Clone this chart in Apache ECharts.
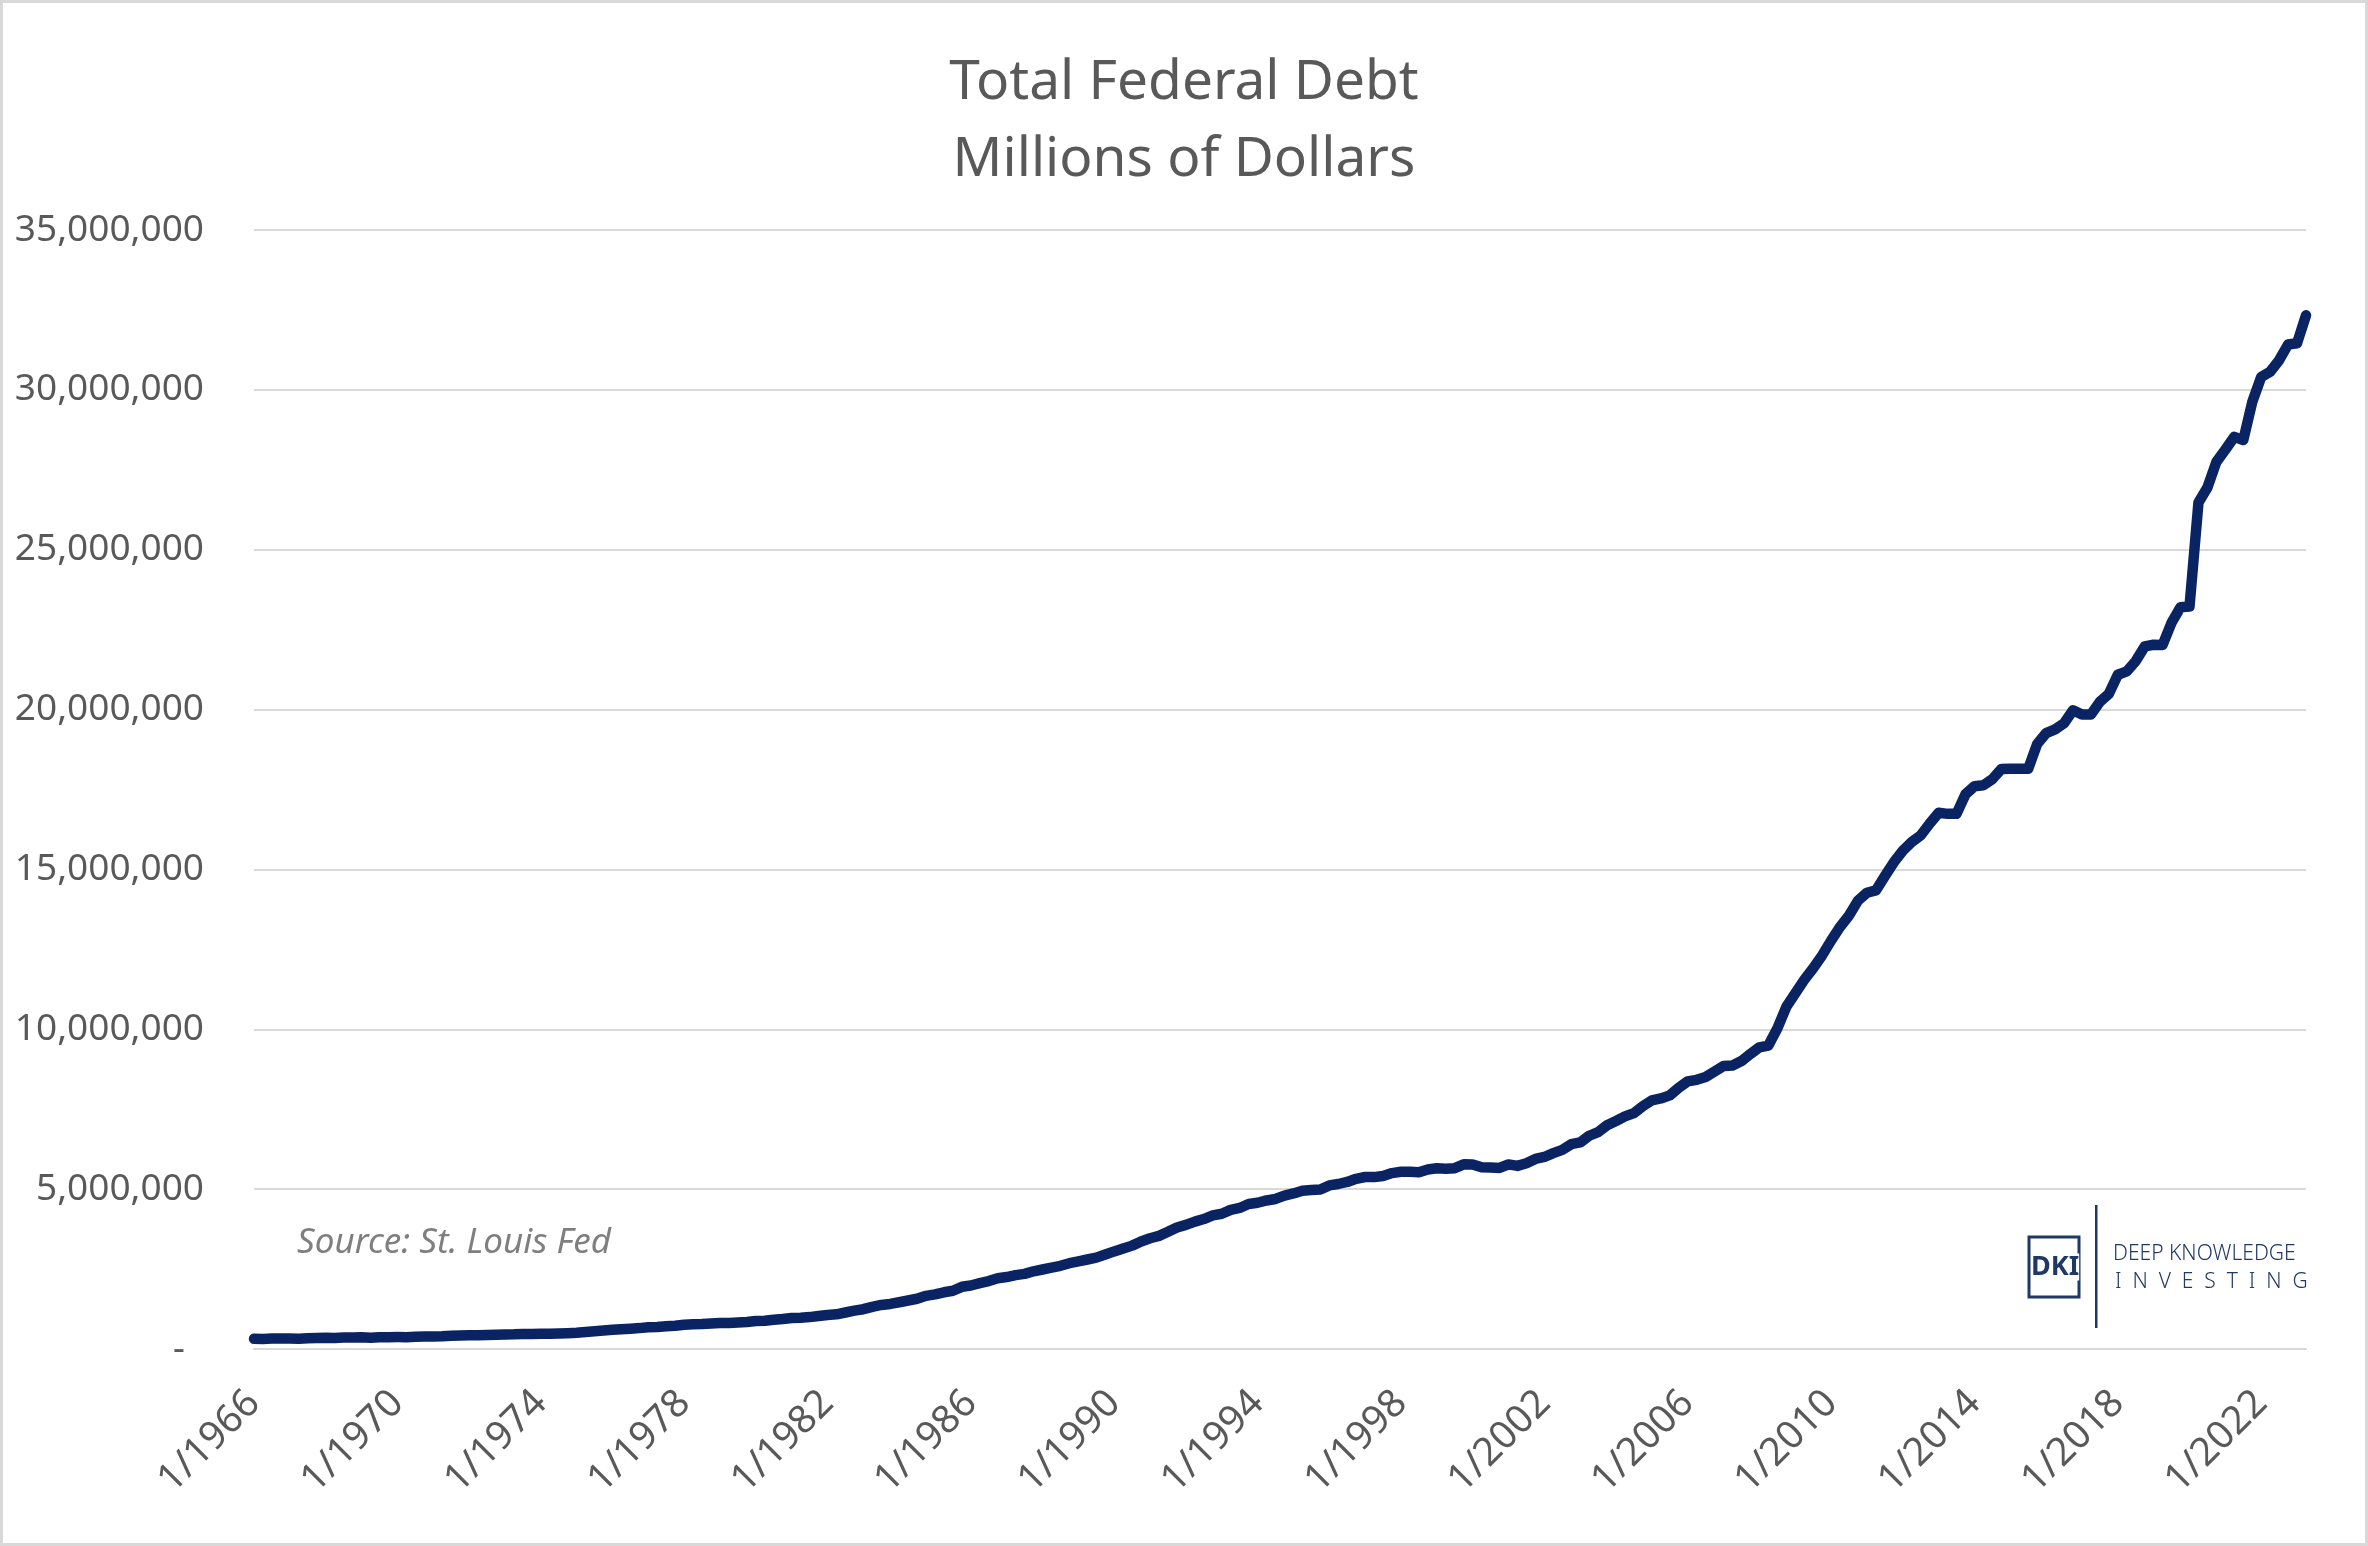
<!DOCTYPE html>
<html>
<head>
<meta charset="utf-8">
<script src="https://cdn.jsdelivr.net/npm/echarts@6/dist/echarts.min.js"></script>
<style>
  html, body { margin: 0; padding: 0; background: #fff; }
  #chart { width: 2368px; height: 1546px; }
</style>
</head>
<body>
<div id="chart"></div>
<script>
// Quarterly total federal debt, millions of dollars, 1966 Q1 .. 2023 Q2
const startYear = 1966;
const quarterMonths = [1, 4, 7, 10];

const debt1966_1975 = [
  320999, 316097, 324748, 329319,
  330947, 322893, 336927, 344663,
  351482, 347578, 358029, 358016,
  363713, 353720, 365770, 368226,
  372007, 370919, 381870, 389158,
  391676, 398130, 413256, 424131,
  427260, 427751, 436494, 449298,
  457000, 458142, 466291, 469898,
  474235, 475060, 481499, 492665,
  509659, 533189, 554280, 576649
];
const debt1976_1985 = [
  599000, 620433, 635822, 653544,
  680000, 685192, 709138, 729225,
  758000, 771544, 780425, 797694,
  816000, 812000, 829470, 845116,
  873000, 884000, 914317, 936000,
  970000, 977000, 997855, 1034000,
  1066000, 1084000, 1142034, 1201000,
  1245000, 1319000, 1377210, 1410000,
  1463000, 1517000, 1572266, 1663000,
  1710000, 1774000, 1823103, 1945000
];
const debt1986_1995 = [
  1986000, 2059000, 2125302, 2214000,
  2250000, 2309000, 2350277, 2431000,
  2487000, 2547000, 2602338, 2684000,
  2740000, 2799000, 2857431, 2953000,
  3052000, 3143000, 3233313, 3364000,
  3465000, 3538000, 3665303, 3801000,
  3881000, 3984000, 4064621, 4177000,
  4230000, 4352000, 4411489, 4535000,
  4575000, 4646000, 4692750, 4800000,
  4864000, 4951000, 4973983, 4988000
];
const debt1996_2005 = [
  5117000, 5161000, 5224811, 5323000,
  5380000, 5376000, 5413146, 5502000,
  5542000, 5547000, 5526193, 5614000,
  5651000, 5638000, 5656271, 5776000,
  5773000, 5686000, 5674178, 5662000,
  5773000, 5727000, 5807463, 5943000,
  6006000, 6126000, 6228236, 6405000,
  6460000, 6670000, 6783231, 6998000,
  7131000, 7274000, 7379053, 7596000,
  7776000, 7836000, 7932710, 8170000
];
const debt2006_2015 = [
  8371000, 8420000, 8507000, 8680000,
  8849000, 8867000, 9007653, 9229000,
  9437000, 9492000, 10024725, 10699000,
  11126000, 11545000, 11909829, 12311000,
  12773000, 13201000, 13561623, 14025000,
  14270000, 14343000, 14790340, 15222000,
  15582000, 15856000, 16066241, 16432000,
  16771000, 16738000, 16738000, 17352000,
  17601000, 17632000, 17824071, 18141000,
  18152000, 18152000, 18150618, 18922000
];
const debt2016_2023 = [
  19264000, 19381000, 19573445, 19977000,
  19846000, 19845000, 20244900, 20493000,
  21090000, 21195000, 21516058, 21974000,
  22028000, 22023000, 22719402, 23201000,
  23224000, 26477000, 26945000, 27748000,
  28133000, 28529000, 28428919, 29617000,
  30401000, 30568000, 30928912, 31419000,
  31458000, 32332000
];

const yTicks = [0, 5000000, 10000000, 15000000, 20000000, 25000000, 30000000, 35000000];

const values = [].concat(debt1966_1975, debt1976_1985, debt1986_1995,
                         debt1996_2005, debt2006_2015, debt2016_2023);
const categories = values.map((_, i) =>
  quarterMonths[i % 4] + '/' + (startYear + Math.floor(i / 4)));

const chart = echarts.init(document.getElementById('chart'), null, { renderer: 'canvas' });

const textColor = '#595959';
const navy = '#0a2463';

chart.setOption({
  backgroundColor: '#ffffff',
  animation: false,
  title: {
    text: 'Total Federal Debt\nMillions of Dollars',
    left: 'center',
    top: 40,
    textStyle: {
      fontFamily: 'Noto Sans',
      fontWeight: 'normal',
      fontSize: 55,
      lineHeight: 77,
      color: textColor
    }
  },
  grid: { left: 254, right: 62, top: 230, bottom: 197, containLabel: false },
  xAxis: {
    type: 'category',
    data: categories,
    boundaryGap: false,
    axisLine: { show: true, lineStyle: { color: '#d9d9d9', width: 2 } },
    axisTick: { show: false },
    splitLine: { show: false },
    axisLabel: {
      interval: 15,
      rotate: 45,
      margin: 48,
      fontFamily: 'Noto Sans',
      fontSize: 39,
      color: textColor,
      hideOverlap: false
    }
  },
  yAxis: {
    type: 'value',
    min: yTicks[0],
    max: yTicks[yTicks.length - 1],
    interval: yTicks[1] - yTicks[0],
    axisLine: { show: false },
    axisTick: { show: false },
    splitLine: { show: true, lineStyle: { color: '#d9d9d9', width: 2 } },
    axisLabel: {
      margin: 50,
      fontFamily: 'Noto Sans',
      fontSize: 37,
      color: textColor,
      formatter: function (v) {
        return v === 0 ? '{d|-}' : v.toLocaleString('en-US');
      },
      rich: {
        d: { fontFamily: 'Noto Sans', fontSize: 37, color: textColor, padding: [0, 19, 0, 0] }
      }
    }
  },
  series: [{
    type: 'line',
    data: values,
    showSymbol: false,
    smooth: false,
    lineStyle: { color: navy, width: 10.5, cap: 'round', join: 'round' },
    z: 3
  }],
  graphic: [
    {
      type: 'rect',
      shape: { x: 1.5, y: 1.5, width: 2365, height: 1543 },
      style: { fill: 'none', stroke: '#d9d9d9', lineWidth: 3 },
      silent: true
    },
    {
      type: 'text',
      left: 297,
      top: 1226,
      style: {
        text: 'Source: St. Louis Fed',
        fontFamily: 'Noto Sans',
        fontStyle: 'italic',
        fontSize: 35,
        fill: '#7f7f7f'
      }
    },
    {
      type: 'rect',
      shape: { x: 2029, y: 1237, width: 50, height: 60 },
      style: { fill: '#ffffff', stroke: '#203864', lineWidth: 3 }
    },
    {
      type: 'text',
      x: 2031,
      y: 1267,
      style: {
        text: 'DKI',
        fontFamily: 'Noto Sans',
        fontWeight: 'bold',
        fontSize: 27,
        fill: '#203864',
        textVerticalAlign: 'middle',
        backgroundColor: '#ffffff'
      }
    },
    {
      type: 'rect',
      shape: { x: 2095, y: 1205, width: 2.5, height: 123 },
      style: { fill: '#203864' }
    },
    {
      type: 'text',
      x: 2113,
      y: 1254,
      style: {
        text: 'DEEP KNOWLEDGE',
        fontFamily: 'Noto Sans',
        fontWeight: 300,
        fontSize: 21,
        fill: '#203864',
        textVerticalAlign: 'middle'
      }
    },
    {
      type: 'text',
      x: 2115,
      y: 1282,
      style: {
        text: 'I  N  V  E  S  T  I  N  G',
        fontFamily: 'Noto Sans',
        fontWeight: 300,
        fontSize: 21,
        fill: '#203864',
        textVerticalAlign: 'middle'
      }
    }
  ]
});
</script>
</body>
</html>
